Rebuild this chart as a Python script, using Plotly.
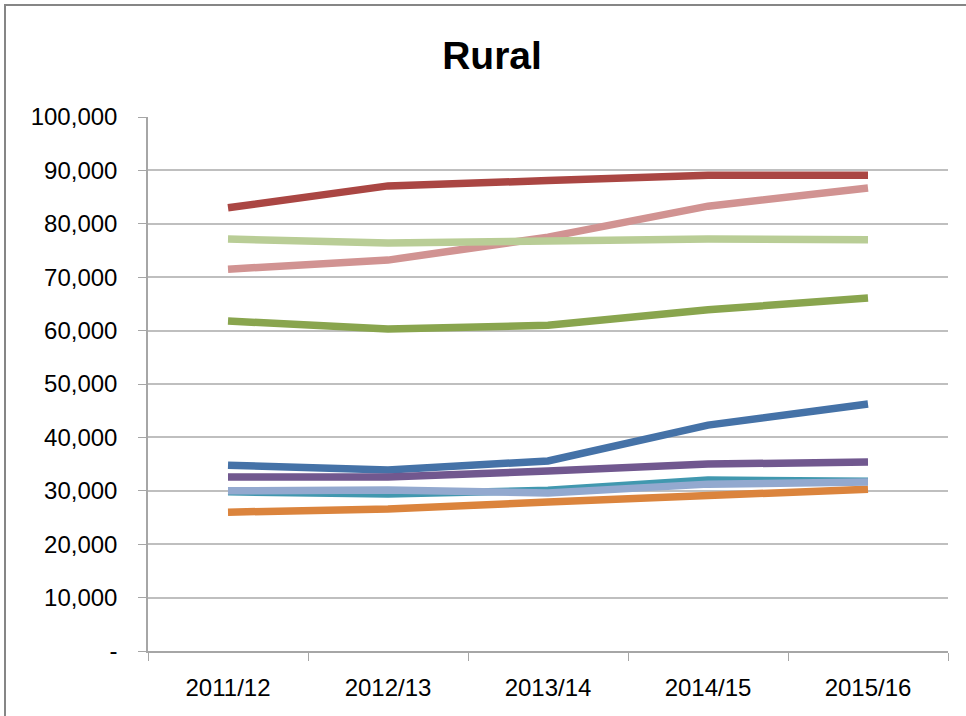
import plotly.graph_objects as go

years = ["2011/12", "2012/13", "2013/14", "2014/15", "2015/16"]

series_1 = [34800, 33900, 35600, 42300, 46250]   # blue
series_2 = [83000, 87100, 88100, 89100, 89100]   # dark red
series_3 = [61800, 60300, 61000, 63900, 66100]   # green
series_4 = [32600, 32600, 33700, 35000, 35400]   # purple
series_5 = [29800, 29400, 30100, 32000, 31800]   # teal
series_6 = [26000, 26600, 27900, 29000, 30300]   # orange
series_7 = [30000, 30150, 29600, 31250, 31650]   # light blue
series_8 = [71500, 73200, 77500, 83300, 86700]   # pink
series_9 = [77150, 76400, 76800, 77150, 77000]   # light green

colors = ["#4572A7", "#AA4643", "#89A54E", "#71588F", "#4198AF",
          "#DB843D", "#93A9CF", "#D19392", "#B9CD96"]
all_series = [series_1, series_2, series_3, series_4, series_5,
              series_6, series_7, series_8, series_9]

y_tickvals = [0, 10000, 20000, 30000, 40000, 50000, 60000, 70000, 80000, 90000, 100000]
y_ticktext = ["-", "10,000", "20,000", "30,000", "40,000", "50,000",
              "60,000", "70,000", "80,000", "90,000", "100,000"]

fig = go.Figure()
for i, (vals, col) in enumerate(zip(all_series, colors)):
    fig.add_trace(go.Scatter(x=years, y=vals, mode="lines",
                             line=dict(color=col, width=7.5),
                             name=f"Series {i+1}", showlegend=False))

W, H = 966, 716
L, R, T, B = 148, 18, 117, 65
pw, ph = W - L - R, H - T - B

def px_to_paper_x(px):
    return (px - L) / pw

def px_to_paper_y(py):
    return (H - B - py) / ph

fig.update_layout(
    width=W, height=H,
    margin=dict(l=L, r=R, t=T, b=B, autoexpand=False),
    paper_bgcolor="white", plot_bgcolor="white",
    font=dict(family="Liberation Sans, Arial, sans-serif", color="black"),
    title=dict(text="<b>Rural</b>", font=dict(size=39, color="black"),
               x=492 / W, xanchor="center", xref="container",
               y=1 - 55 / H, yanchor="middle", yref="container"),
    xaxis=dict(type="category", tickson="boundaries", showgrid=False,
               showline=True, linecolor="#A6A6A6", linewidth=1.5,
               ticks="outside", ticklen=8, tickcolor="#A6A6A6",
               tickfont=dict(size=24), ticklabelstandoff=14,
               range=[-0.5, 4.5], automargin=False),
    yaxis=dict(range=[0, 100000], tickvals=y_tickvals, ticktext=y_ticktext,
               showgrid=True, gridcolor="#BFBFBF", gridwidth=1.5,
               showline=True, linecolor="#A6A6A6", linewidth=1.5,
               ticks="outside", ticklen=8, tickcolor="#A6A6A6",
               tickfont=dict(size=24), ticklabelstandoff=16,
               zeroline=False, automargin=False),
    shapes=[dict(type="rect", xref="paper", yref="paper",
                 x0=px_to_paper_x(5), x1=px_to_paper_x(1000),
                 y0=px_to_paper_y(760), y1=px_to_paper_y(5),
                 line=dict(color="#868686", width=2), layer="below")],
)

fig.write_html("out.html", config={"displayModeBar": False},
               post_script="document.body.style.margin='0';")
